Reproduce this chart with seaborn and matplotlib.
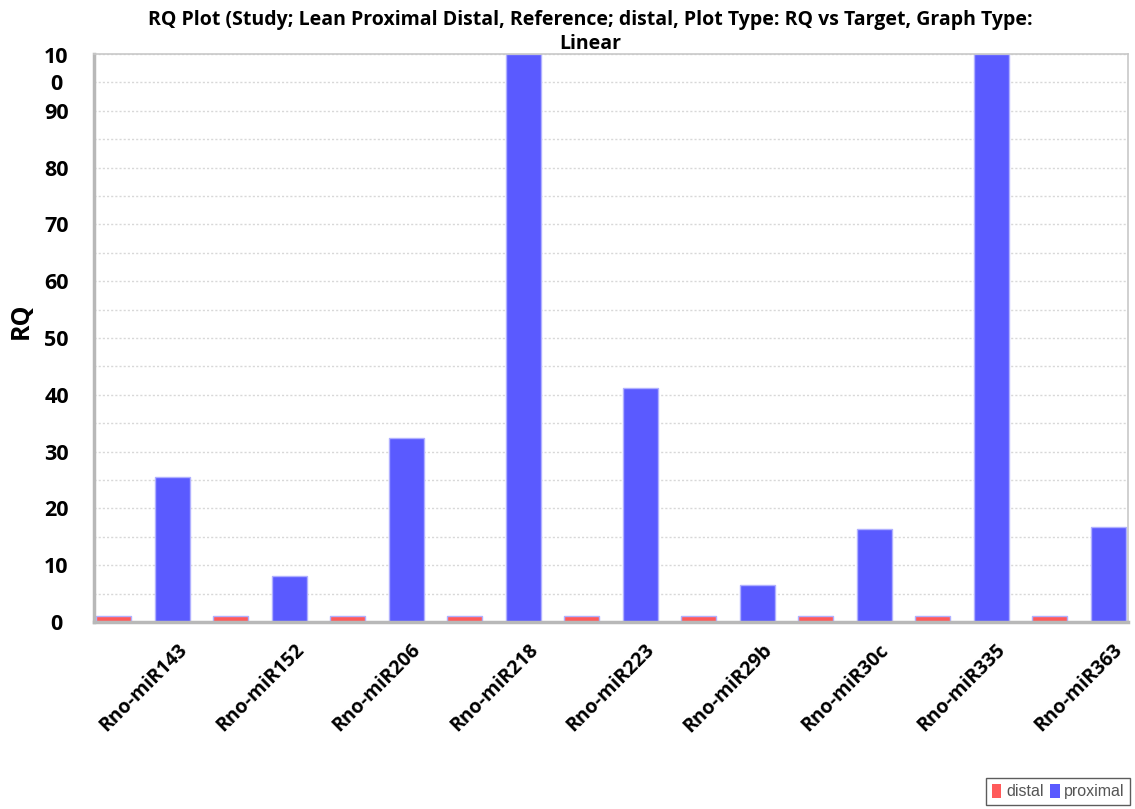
import matplotlib
matplotlib.use("Agg")
import matplotlib.pyplot as plt
import matplotlib.transforms as mtransforms
from matplotlib.patches import Patch
from matplotlib.ticker import MultipleLocator
import seaborn as sns
import pandas as pd

targets = ["Rno-miR143", "Rno-miR152", "Rno-miR206", "Rno-miR218", "Rno-miR223",
           "Rno-miR29b", "Rno-miR30c", "Rno-miR335", "Rno-miR363"]
distal = [1, 1, 1, 1, 1, 1, 1, 1, 1]
proximal = [25.6, 8.1, 32.4, 100, 41.2, 6.5, 16.4, 100, 16.7]
groups = ["distal", "proximal"]
colors = {"distal": "#ff5a5a", "proximal": "#5a5aff"}
ytick_vals = [0, 10, 20, 30, 40, 50, 60, 70, 80, 90, 100]
ytick_labels = ["0", "10", "20", "30", "40", "50", "60", "70", "80", "90", "10\n0"]

df = pd.DataFrame({
    "Target": targets * 2,
    "Sample": ["distal"] * len(targets) + ["proximal"] * len(targets),
    "RQ": distal + proximal,
})

sns.set_theme(style="white")
plt.rcParams["font.family"] = ["Open Sans", "DejaVu Sans"]
plt.rcParams["text.color"] = "black"
plt.rcParams["axes.labelcolor"] = "black"
plt.rcParams["xtick.labelcolor"] = "black"
plt.rcParams["ytick.labelcolor"] = "black"

fig = plt.figure(figsize=(11.35, 8.09), dpi=100)
ax = fig.add_axes([0.0828, 0.2311, 0.911, 0.7022])

sns.barplot(data=df, x="Target", y="RQ", hue="Sample", hue_order=groups,
            palette=colors, width=1.0, gap=0.4, ax=ax, legend=False,
            edgecolor="#b0b0ff", linewidth=1.0, saturation=1)

ax.set_ylim(0, 100)
ax.set_xlim(-0.42, 8.42)
ax.set_yticks(ytick_vals)
ax.set_yticklabels(ytick_labels, fontsize=15.5, fontweight="bold")
ax.yaxis.set_minor_locator(MultipleLocator(5))
ax.grid(True, which="both", axis="y", color="#d8d8d8", linestyle=(0, (1.5, 1.5)), linewidth=1)
ax.set_axisbelow(True)
ax.tick_params(axis="y", which="both", length=3, color="#c8c8c8")
ax.tick_params(axis="x", length=3, color="#c8c8c8", pad=10)
for lbl in ax.get_yticklabels():
    lbl.set_horizontalalignment("center")
    lbl.set_color("black")
ax.tick_params(axis="y", pad=24)
lbl100 = ax.get_yticklabels()[-1]
lbl100.set_verticalalignment("top")
lbl100.set_linespacing(1.35)
lbl100.set_transform(lbl100.get_transform() +
                     mtransforms.ScaledTranslation(0, 5 / 72, fig.dpi_scale_trans))

ax.set_xticks(range(len(targets)))
ax.set_xticklabels(targets, rotation=45, ha="center", fontsize=14, fontweight="bold",
                   color="black")
ax.set_xlabel("")
ax.set_ylabel("RQ", fontsize=18, fontweight="bold", color="black")
ax.yaxis.set_label_coords(-0.058, 0.53)

for side in ["left", "bottom"]:
    ax.spines[side].set_color("#b8b8b8")
    ax.spines[side].set_linewidth(2.5)
for side in ["top", "right"]:
    ax.spines[side].set_color("#c8c8c8")
    ax.spines[side].set_linewidth(1.2)

fig.text(0.52, 0.988,
         "RQ Plot (Study; Lean Proximal Distal, Reference; distal, Plot Type: RQ vs Target, Graph Type:\nLinear",
         ha="center", va="top", fontsize=14, fontweight="bold", linespacing=1.3, color="black")

handles = [Patch(facecolor=colors[g], edgecolor="none", label=g) for g in groups]
leg = fig.legend(handles=handles, loc="lower right", bbox_to_anchor=(0.996, 0.005),
                 borderaxespad=0,
                 ncol=2, frameon=True, fancybox=False, handlelength=0.6, handleheight=1.0,
                 handletextpad=0.3, columnspacing=0.4, borderpad=0.35,
                 prop={"family": ["Liberation Sans", "DejaVu Sans"], "size": 11.5})
leg.get_frame().set_edgecolor("#333333")
leg.get_frame().set_linewidth(1.0)
for t in leg.get_texts():
    t.set_color("#555555")

fig.savefig("out.png", dpi=100)
